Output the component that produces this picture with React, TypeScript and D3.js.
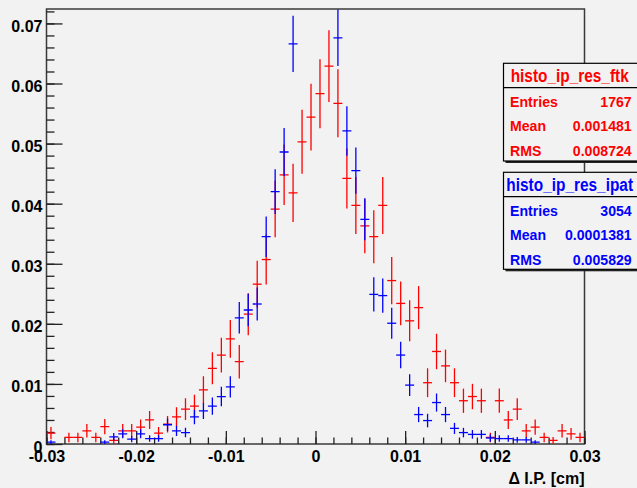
import { useEffect, useRef } from "react";
import * as d3 from "d3";

const W = 637;
const H = 488;

// histogram binning: 60 bins of 0.001 cm from -0.03 to 0.03
const binLow = -0.03;
const binHigh = 0.03;
const nBins = 60;
const yMax = 0.0724;

// normalised bin contents
const ftkValues = [
  0.0018, 0, 0.0011, 0.0011, 0.0022, 0.0011, 0.0029, 0.0006, 0.0022, 0.0022,
  0.0028, 0.004, 0.0018, 0.0033, 0.0045, 0.0058, 0.0063, 0.009, 0.0126, 0.0148,
  0.0175, 0.0137, 0.0216, 0.0266, 0.0307, 0.0391, 0.0448, 0.0418, 0.0503, 0.0544,
  0.0583, 0.0629, 0.0567, 0.0442, 0.0397, 0.0363, 0.0345, 0.0397, 0.0272, 0.0234,
  0.0205, 0.0227, 0.0102, 0.0154, 0.013, 0.0102, 0.0072, 0.0079, 0.0072, 0.0011,
  0.0072, 0.004, 0.0058, 0.0022, 0.0028, 0.0011, 0.0006, 0.0022, 0.0017, 0.0011,
];
// bins 28-31 are above the frame in the picture (estimated)
const ipatValues = [
  0.0003, 0, 0, 0, 0, 0, 0.0003, 0.0012, 0.0017, 0.0008,
  0.0017, 0.0009, 0.0009, 0.0032, 0.0022, 0.0019, 0.0045, 0.0055, 0.0063, 0.0079,
  0.0095, 0.021, 0.0223, 0.0233, 0.0345, 0.042, 0.0486, 0.0666, 0.085, 0.095,
  0.095, 0.088, 0.0676, 0.0521, 0.0455, 0.0374, 0.0249, 0.0247, 0.0201, 0.0148,
  0.0098, 0.0049, 0.0039, 0.0069, 0.0049, 0.0026, 0.0019, 0.0016, 0.0016, 0.001,
  0.0009, 0.0009, 0.0007, 0.0007, 0.0003, 0, 0, 0, 0, 0,
];
const ftkEntries = 1767;
const ipatEntries = 3054;

const ftkStats = [
  ["Entries", "1767"],
  ["Mean", "0.001481"],
  ["RMS", "0.008724"],
];
const ipatStats = [
  ["Entries", "3054"],
  ["Mean", "0.0001381"],
  ["RMS", "0.005829"],
];

const xTicks = [-0.03, -0.02, -0.01, 0, 0.01, 0.02, 0.03];
const xTickLabels = ["-0.03", "-0.02", "-0.01", "0", "0.01", "0.02", "0.03"];
const yTicks = [0, 0.01, 0.02, 0.03, 0.04, 0.05, 0.06, 0.07];
const yTickLabels = ["0", "0.01", "0.02", "0.03", "0.04", "0.05", "0.06", "0.07"];

const FONT = "'Liberation Sans', Arial, Helvetica, sans-serif";
const BG = "#f2f2f2";

const App = () => {
  const svgRef = useRef<SVGSVGElement>(null);

  useEffect(() => {
    const svg = d3.select(svgRef.current);
    svg.selectAll("*").remove();

    const frame = { left: 46.5, right: 584.5, top: 9, bottom: 444 };
    const x = d3.scaleLinear().domain([binLow, binHigh]).range([frame.left, frame.right]);
    const y = d3.scaleLinear().domain([0, yMax]).range([frame.bottom, frame.top]);
    const binW = (binHigh - binLow) / nBins;

    svg.append("rect").attr("width", W).attr("height", H).attr("fill", BG);

    svg
      .append("defs")
      .append("clipPath")
      .attr("id", "frame-clip")
      .append("rect")
      .attr("x", frame.left)
      .attr("y", frame.top)
      .attr("width", frame.right - frame.left)
      .attr("height", frame.bottom - frame.top);

    // frame
    svg
      .append("rect")
      .attr("x", frame.left)
      .attr("y", frame.top)
      .attr("width", frame.right - frame.left)
      .attr("height", frame.bottom - frame.top)
      .attr("fill", "none")
      .attr("stroke", "#3a3a3a")
      .attr("stroke-width", 1.5);

    // axes (ticks point into the frame, ROOT style)
    const styleAxis = (g) => {
      g.select(".domain").remove();
      g.selectAll("line").attr("stroke", "#222").attr("stroke-width", 1.3);
      g.attr("font-size", 16).attr("font-family", FONT).attr("font-weight", "bold");
      g.selectAll("text").attr("fill", "#000");
    };

    svg
      .append("g")
      .attr("transform", `translate(${frame.left},0)`)
      .call(d3.axisLeft(y).ticks(36).tickSize(-8).tickFormat(() => ""))
      .call(styleAxis);
    svg
      .append("g")
      .attr("transform", `translate(${frame.left},0)`)
      .call(
        d3
          .axisLeft(y)
          .tickValues(yTicks)
          .tickFormat((d, i) => yTickLabels[i])
          .tickSize(-16)
          .tickPadding(4)
      )
      .call(styleAxis)
      .selectAll("text")
      .attr("dy", "0.5em");

    svg
      .append("g")
      .attr("transform", `translate(0,${frame.bottom})`)
      .call(d3.axisBottom(x).ticks(30).tickSize(-6.5).tickFormat(() => ""))
      .call(styleAxis);
    svg
      .append("g")
      .attr("transform", `translate(0,${frame.bottom})`)
      .call(
        d3
          .axisBottom(x)
          .tickValues(xTicks)
          .tickFormat((d, i) => xTickLabels[i])
          .tickSize(-13)
          .tickPadding(7)
      )
      .call(styleAxis);

    svg
      .append("text")
      .attr("x", frame.right)
      .attr("y", 484)
      .attr("text-anchor", "end")
      .attr("font-family", FONT)
      .attr("font-weight", "bold")
      .attr("font-size", 16)
      .text("Δ I.P. [cm]");

    // histograms with error bars
    const drawHist = (values: number[], entries: number, color: string) => {
      const pts = values
        .map((v, i) => ({ lo: binLow + i * binW, v, err: Math.sqrt(v / entries) }))
        .filter((d) => d.v > 0);
      const g = svg
        .append("g")
        .attr("clip-path", "url(#frame-clip)")
        .attr("stroke", color)
        .attr("stroke-width", 1.3);
      g.selectAll("line.h")
        .data(pts)
        .join("line")
        .attr("class", "h")
        .attr("x1", (d) => x(d.lo))
        .attr("x2", (d) => x(d.lo + binW))
        .attr("y1", (d) => y(d.v))
        .attr("y2", (d) => y(d.v));
      g.selectAll("line.v")
        .data(pts)
        .join("line")
        .attr("class", "v")
        .attr("x1", (d) => x(d.lo + binW / 2))
        .attr("x2", (d) => x(d.lo + binW / 2))
        .attr("y1", (d) => y(d.v - d.err))
        .attr("y2", (d) => y(d.v + d.err));
    };
    drawHist(ftkValues, ftkEntries, "#ff0000");
    drawHist(ipatValues, ipatEntries, "#0000ff");

    // stat boxes
    const squeeze = (sel, factor: number) => {
      sel.each(function () {
        const len = this.getComputedTextLength();
        d3.select(this).attr("textLength", len * factor).attr("lengthAdjust", "spacingAndGlyphs");
      });
    };
    const drawStats = (top: number, bottom: number, title: string, rows: string[][], color: string) => {
      const left = 503.5;
      const g = svg.append("g").attr("font-family", FONT).attr("font-weight", "bold").attr("fill", color);
      g.append("rect")
        .attr("x", left + 2)
        .attr("y", top + 2)
        .attr("width", 150)
        .attr("height", bottom - top)
        .attr("fill", "#222");
      g.append("rect")
        .attr("x", left)
        .attr("y", top)
        .attr("width", 150)
        .attr("height", bottom - top)
        .attr("fill", BG)
        .attr("stroke", "#000")
        .attr("stroke-width", 1.2);
      g.append("line")
        .attr("x1", left)
        .attr("x2", W)
        .attr("y1", top + 24.4)
        .attr("y2", top + 24.4)
        .attr("stroke", "#000")
        .attr("stroke-width", 1.2);
      g.append("text")
        .attr("x", 569.7)
        .attr("y", top + 18.4)
        .attr("text-anchor", "middle")
        .attr("font-size", 17.5)
        .text(title)
        .call(squeeze, 0.88);
      rows.forEach(([label, value], i) => {
        const by = top + 43.8 + i * 24.2;
        g.append("text").attr("x", 510).attr("y", by).attr("font-size", 15.5).text(label).call(squeeze, 0.91);
        g.append("text")
          .attr("x", 631.7)
          .attr("y", by)
          .attr("text-anchor", "end")
          .attr("font-size", 15.5)
          .text(value)
          .call(squeeze, 0.91);
      });
    };
    drawStats(63.3, 161, "histo_ip_res_ftk", ftkStats, "#ff0000");
    drawStats(172.3, 269.3, "histo_ip_res_ipat", ipatStats, "#0000ff");
  }, []);

  return (
    <svg
      ref={svgRef}
      width={W}
      height={H}
      style={{ position: "absolute", left: 0, top: 0, display: "block" }}
    />
  );
};

export default App;
